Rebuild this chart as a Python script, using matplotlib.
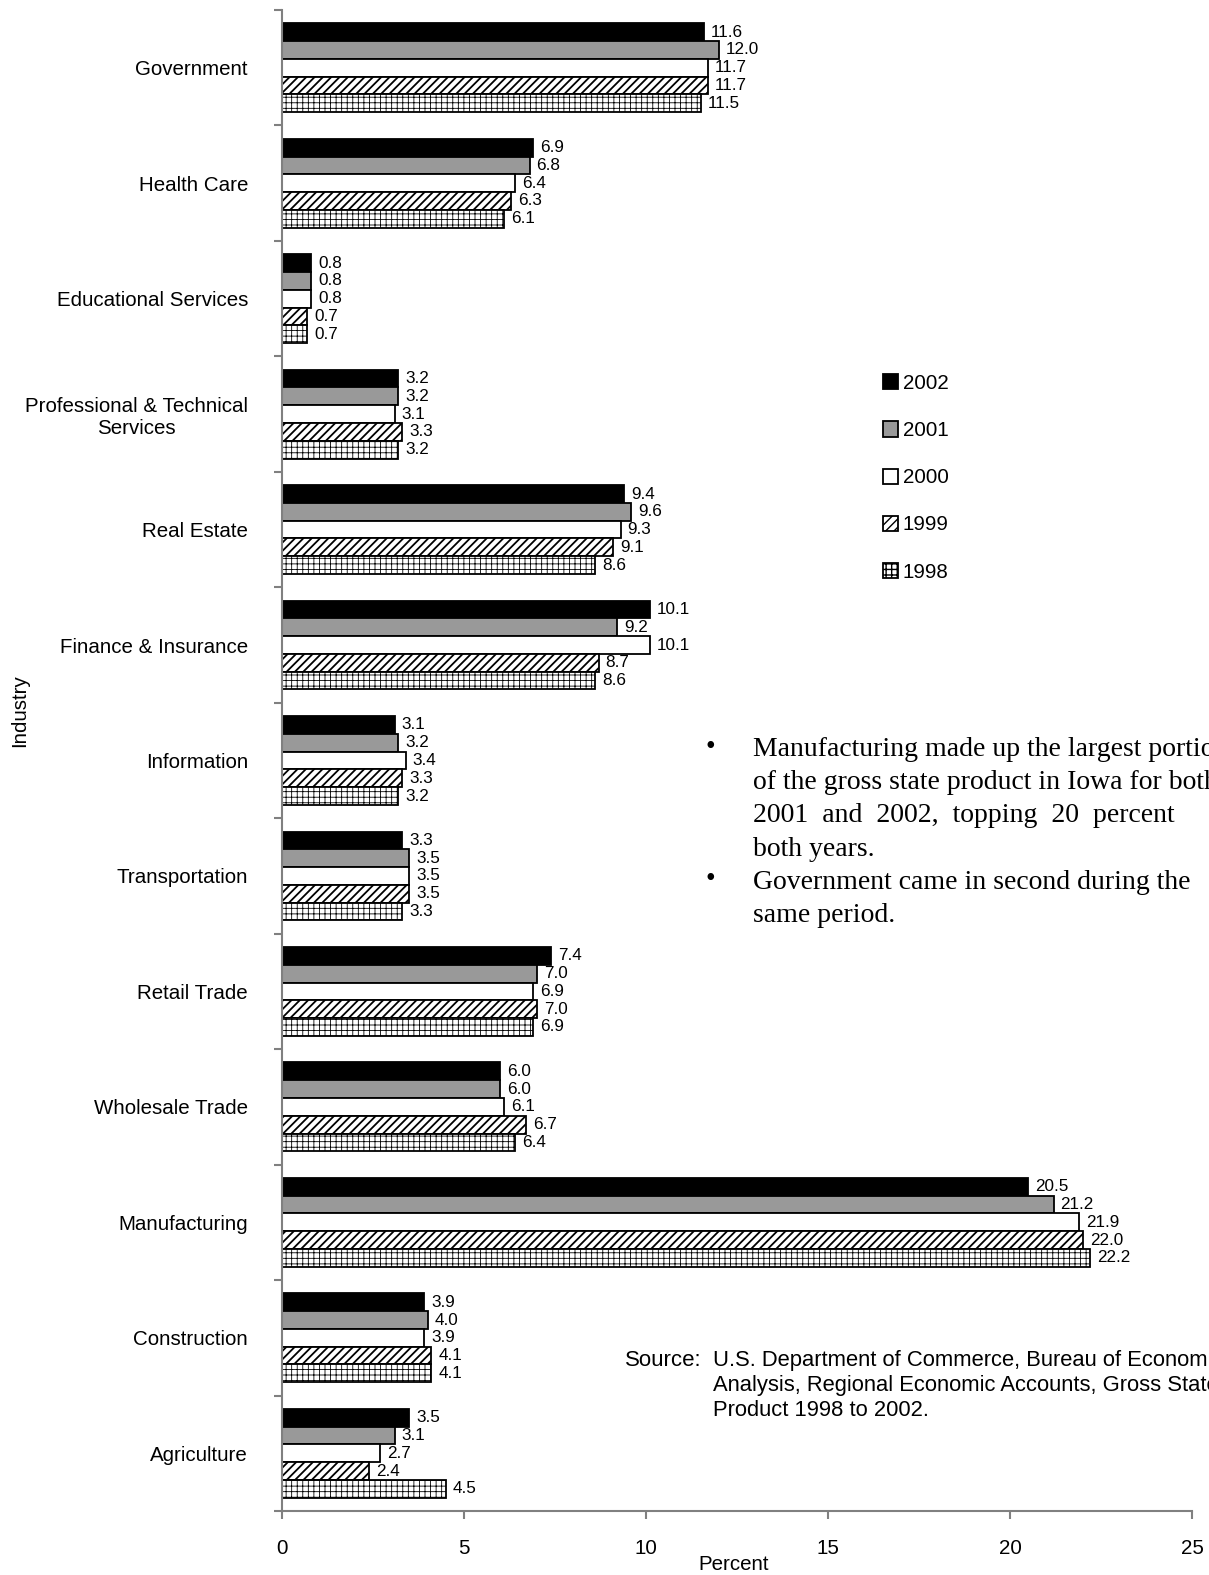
import matplotlib
matplotlib.use('Agg')
import matplotlib.pyplot as plt
from matplotlib import font_manager as fm
import numpy as np

# ---------------- data ----------------
categories = ["Government", "Health Care", "Educational Services",
              "Professional & Technical\nServices", "Real Estate",
              "Finance & Insurance", "Information", "Transportation",
              "Retail Trade", "Wholesale Trade", "Manufacturing",
              "Construction", "Agriculture"]
years = ["2002", "2001", "2000", "1999", "1998"]
v2002 = [11.6, 6.9, 0.8, 3.2, 9.4, 10.1, 3.1, 3.3, 7.4, 6.0, 20.5, 3.9, 3.5]
v2001 = [12.0, 6.8, 0.8, 3.2, 9.6, 9.2, 3.2, 3.5, 7.0, 6.0, 21.2, 4.0, 3.1]
v2000 = [11.7, 6.4, 0.8, 3.1, 9.3, 10.1, 3.4, 3.5, 6.9, 6.1, 21.9, 3.9, 2.7]
v1999 = [11.7, 6.3, 0.7, 3.3, 9.1, 8.7, 3.3, 3.5, 7.0, 6.7, 22.0, 4.1, 2.4]
v1998 = [11.5, 6.1, 0.7, 3.2, 8.6, 8.6, 3.2, 3.3, 6.9, 6.4, 22.2, 4.1, 4.5]
xticks = [0, 5, 10, 15, 20, 25]

bullet_lines = [
    ["Manufacturing made up the largest portion",
     "of the gross state product in Iowa for both",
     "2001  and  2002,  topping  20  percent      in",
     "both years."],
    ["Government came in second during the",
     "same period."],
]
source_label = "Source:"
source_lines = ["U.S. Department of Commerce, Bureau of Economic",
                "Analysis, Regional Economic Accounts, Gross State",
                "Product 1998 to 2002."]

# ---------------- fonts ----------------
def pick(names):
    for n in names:
        try:
            fm.findfont(fm.FontProperties(family=n), fallback_to_default=False)
            return n
        except Exception:
            pass
    return None

NARROW = pick(['Liberation Sans Narrow', 'Arial Narrow'])
SANS = pick(['Liberation Sans', 'Arial']) or 'DejaVu Sans'
SERIF = pick(['Liberation Serif', 'Times New Roman']) or 'DejaVu Serif'
if NARROW:
    LF, FS_BIG, FS_VAL = NARROW, 18, 15
else:
    LF, FS_BIG, FS_VAL = SANS, 14.8, 12.3

W, H = 1209, 1575
fig = plt.figure(figsize=(W / 100, H / 100), dpi=100)
ax = fig.add_axes([282 / W, 1 - 1511 / H, 910 / W, 1501 / H])

series = [v2002, v2001, v2000, v1999, v1998]
faces = ['black', '#999999', 'white', 'white', 'white']
hatches = [None, None, None, '////', '+++']
hlw = [1.0, 1.0, 1.0, 1.3, 0.6]
bh = 0.154
y0 = np.arange(len(categories))

for i, (vals, lab) in enumerate(zip(series, years)):
    with plt.rc_context({'hatch.linewidth': hlw[i]}):
        bars = ax.barh(y0 + (i - 2) * bh, vals, height=bh, color=faces[i],
                       edgecolor='black', linewidth=1.3, hatch=hatches[i],
                       label=lab)
    for b in bars:
        if hasattr(b, 'set_hatch_linewidth'):
            b.set_hatch_linewidth(hlw[i])
    ax.bar_label(bars, labels=[f'{v:.1f}' for v in vals], padding=5,
                 fontsize=FS_VAL, family=LF)

ax.set_xlim(0, 25)
ax.set_ylim(len(categories) - 0.5, -0.5)
ax.set_xticks(xticks)
ax.set_xticklabels([str(t) for t in xticks], fontsize=FS_BIG, family=LF)
ax.set_yticks(np.arange(len(categories) + 1) - 0.5)
ax.set_yticklabels([])
ax.set_yticks(y0, minor=True)
ax.set_yticklabels(categories, minor=True, fontsize=FS_BIG, family=LF,
                   multialignment='center')
ax.tick_params(axis='y', which='minor', length=0, pad=24.5)
ax.tick_params(axis='y', which='major', length=5.8, width=1.5,
               color='#808080', direction='out')
ax.tick_params(axis='x', which='major', length=5.8, width=1.5,
               color='#808080', direction='out', pad=14.5)
for s in ['top', 'right']:
    ax.spines[s].set_visible(False)
for s in ['left', 'bottom']:
    ax.spines[s].set_color('#808080')
    ax.spines[s].set_linewidth(1.5)

ax.set_xlabel('Percent', fontsize=FS_BIG, family=LF)
ax.xaxis.set_label_coords(0.496, -0.029)

fig.text(20 / W, 1 - 711 / H, 'Industry', rotation=90, fontsize=FS_BIG,
         family=LF, ha='center', va='center')

leg = ax.legend(loc='upper left', bbox_to_anchor=(883 / W, 1 - 374 / H),
                bbox_transform=fig.transFigure, frameon=False,
                prop={'family': LF, 'size': FS_BIG}, borderpad=0,
                borderaxespad=0, handlelength=0.75, handleheight=0.75,
                handletextpad=0.2, labelspacing=1.37)

# bullet text
k = 0
for para in bullet_lines:
    for j, line in enumerate(para):
        yb = 756 + 33.2 * k
        if j == 0:
            fig.text(710 / W, 1 - (yb - 9) / H, '\u2022', family=SERIF,
                     fontsize=20, ha='center', va='center')
        fig.text(753 / W, 1 - yb / H, line, family=SERIF, fontsize=20,
                 ha='left', va='baseline')
        k += 1

# source
fig.text(625 / W, 1 - 1366 / H, source_label, family=SANS, fontsize=16,
         ha='left', va='baseline')
for j, line in enumerate(source_lines):
    fig.text(713 / W, 1 - (1366 + 25 * j) / H, line, family=SANS,
             fontsize=15.8, ha='left', va='baseline')

fig.savefig('out.png', dpi=100)
